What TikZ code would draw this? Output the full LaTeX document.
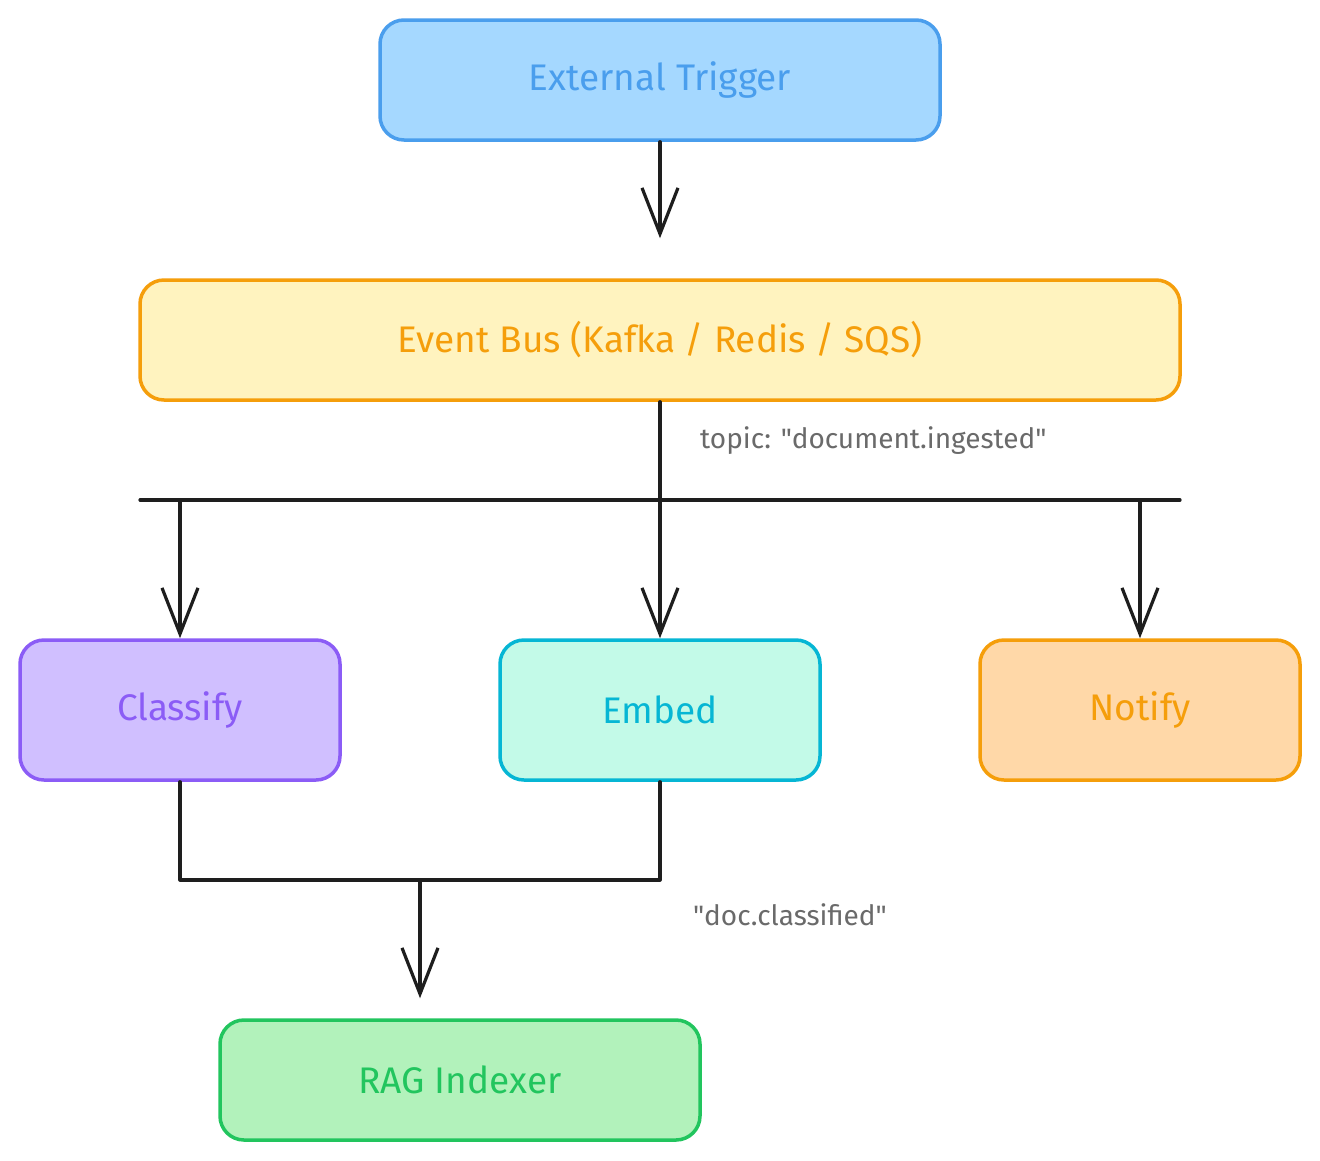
\documentclass[tikz,border=0pt]{standalone}
\usepackage{fontspec}
\setmainfont{Fira Sans}[Ligatures=TeXOff]
\usetikzlibrary{arrows.meta}
\definecolor{blueS}{HTML}{4A9EED}
\definecolor{blueF}{HTML}{A5D8FF}
\definecolor{yelS}{HTML}{F59E0B}
\definecolor{yelF}{HTML}{FFF3BF}
\definecolor{purS}{HTML}{8B5CF6}
\definecolor{purF}{HTML}{D0BFFF}
\definecolor{cyaS}{HTML}{06B6D4}
\definecolor{cyaF}{HTML}{C3FAE8}
\definecolor{oraS}{HTML}{F59E0B}
\definecolor{oraF}{HTML}{FFD8A8}
\definecolor{grnS}{HTML}{22C55E}
\definecolor{grnF}{HTML}{B2F2BB}
\definecolor{ink}{HTML}{1E1E1E}
\definecolor{lbl}{HTML}{6A6A6A}
\tikzset{
  box/.style={draw, rounded corners=24pt, line width=3.5pt, minimum height=120pt,
    inner sep=0pt, font=\fontsize{37}{42}\selectfont},
  wire/.style={draw=ink, line width=3.2pt, line cap=round, line join=round},
  arr/.style={wire, -{Straight Barb[length=46pt,width=36pt,line width=3.2pt]}},
  lab/.style={text=lbl, font=\fontsize{28}{32}\selectfont, inner sep=0pt}
}
\begin{document}
\begin{tikzpicture}[x=1pt,y=-1pt]
\useasboundingbox[fill=white] (0,0) rectangle (1320,1160);
\node[box, draw=blueS, fill=blueF, text=blueS, minimum width=560pt] (trig) at (660,80) {External Trigger};
\node[box, draw=yelS, fill=yelF, text=yelS, minimum width=1040pt] (bus) at (660,340) {Event Bus (Kafka / Redis / SQS)};
\node[box, draw=purS, fill=purF, text=purS, minimum width=320pt, minimum height=140pt] (cls) at (180,710) {Classify};
\node[box, draw=cyaS, fill=cyaF, text=cyaS, minimum width=320pt, minimum height=140pt] (emb) at (660,710) {Embed};
\node[box, draw=oraS, fill=oraF, text=oraS, minimum width=320pt, minimum height=140pt] (ntf) at (1140,710) {Notify};
\node[box, draw=grnS, fill=grnF, text=grnS, minimum width=480pt] (rag) at (460,1080) {RAG Indexer};
\coordinate (busL) at (140,500);
\coordinate (busR) at (1180,500);
\coordinate (merge) at (420,880);
\node[lab, anchor=west] (t1) at (700,441) {topic: "document.ingested"};
\node[lab] (t2) at (790,915) {"doc.classified"};
\draw[arr, shorten >=40pt] (trig.south) -- (bus.north);
\draw[wire] (busL) -- (busR);
\draw[arr] (bus.south) -- (emb.north);
\draw[arr] (cls.north |- busL) -- (cls.north);
\draw[arr] (ntf.north |- busL) -- (ntf.north);
\draw[wire] (cls.south) |- (merge) -| (emb.south);
\draw[arr, shorten >=20pt] (merge) -- (merge |- rag.north);
\end{tikzpicture}
\end{document}
